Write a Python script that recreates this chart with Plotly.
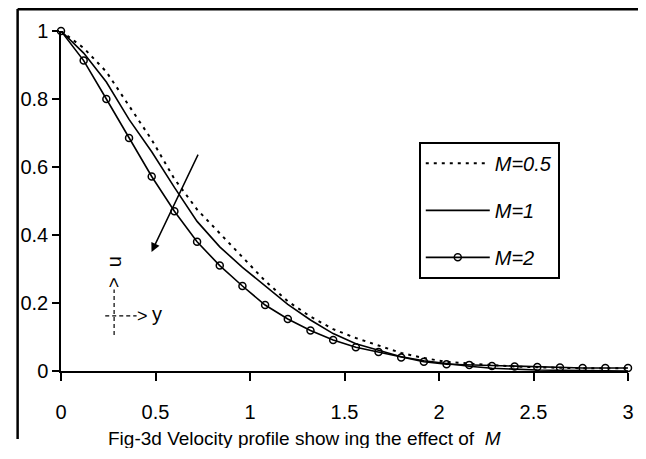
import plotly.graph_objects as go

# distances y and velocity u
y_vals = [0, 0.12, 0.24, 0.36, 0.48, 0.60, 0.72, 0.84, 0.96, 1.08, 1.20, 1.32, 1.44,
          1.56, 1.68, 1.80, 1.92, 2.04, 2.16, 2.28, 2.40, 2.52, 2.64, 2.76, 2.88, 3.00]
u_m05 = [1.0, 0.95, 0.88, 0.78, 0.68, 0.565, 0.475, 0.405, 0.335, 0.265, 0.205, 0.16, 0.123,
         0.097, 0.075, 0.053, 0.038, 0.027, 0.022, 0.017, 0.013, 0.011, 0.009, 0.008, 0.008, 0.008]
u_m1 = [1.0, 0.935, 0.85, 0.74, 0.645, 0.54, 0.44, 0.365, 0.305, 0.25, 0.196, 0.15, 0.11,
        0.08, 0.06, 0.042, 0.03, 0.021, 0.014, 0.008, 0.005, 0.003, 0.002, 0.001, 0.001, 0.0]
u_m2 = [1.0, 0.913, 0.80, 0.685, 0.572, 0.47, 0.38, 0.31, 0.25, 0.194, 0.153, 0.119, 0.091,
        0.07, 0.056, 0.040, 0.027, 0.02, 0.018, 0.015, 0.013, 0.012, 0.010, 0.009, 0.009, 0.009]
names = ["M=0.5", "M=1", "M=2"]
x_ticks = [0, 0.5, 1, 1.5, 2, 2.5, 3]
y_ticks = [0, 0.2, 0.4, 0.6, 0.8, 1]

FONT = "Liberation Sans Narrow, Arial Narrow, Liberation Sans, Arial, sans-serif"

fig = go.Figure()
fig.add_trace(go.Scatter(x=y_vals, y=u_m05, name=names[0], mode="lines", legendgroup="a",
                         line=dict(color="black", width=2, dash="3px,5px")))
fig.add_trace(go.Scatter(x=y_vals, y=u_m1, name=names[1], mode="lines", legendgroup="b",
                         line=dict(color="black", width=1.6)))
fig.add_trace(go.Scatter(x=y_vals, y=u_m2, name=names[2], mode="lines+markers", legendgroup="c",
                         line=dict(color="black", width=1.6),
                         marker=dict(symbol="circle", size=7, color="rgba(255,255,255,0)",
                                     line=dict(color="black", width=1.5)),
                         cliponaxis=False))

# arrow showing increasing M
fig.add_annotation(x=0.479, y=0.35, ax=0.729, ay=0.641, xref="x", yref="y", axref="x", ayref="y",
                   text="", showarrow=True, arrowhead=2, arrowsize=1.2, arrowwidth=1.5,
                   arrowcolor="black")

# little u / y axes sketch
fig.add_shape(type="line", x0=0.281, x1=0.281, y0=0.106, y1=0.24, xref="x", yref="y",
              line=dict(color="black", width=1.2, dash="4px,3px"))
fig.add_shape(type="line", x0=0.234, x1=0.40, y0=0.162, y1=0.162, xref="x", yref="y",
              line=dict(color="black", width=1.2, dash="4px,3px"))
fig.add_annotation(x=0.432, y=0.162, text=">", showarrow=False, xref="x", yref="y",
                   font=dict(family=FONT, size=18, color="black"))
fig.add_annotation(x=0.51, y=0.168, text="y", showarrow=False, xref="x", yref="y",
                   font=dict(family=FONT, size=20, color="black"))
fig.add_annotation(x=0.281, y=0.259, text=">", showarrow=False, xref="x", yref="y", textangle=-90,
                   font=dict(family=FONT, size=18, color="black"))
fig.add_annotation(x=0.281, y=0.32, text="u", showarrow=False, xref="x", yref="y", textangle=-90,
                   font=dict(family=FONT, size=20, color="black"))

# caption
fig.add_annotation(x=0.43, y=(371 - 438) / 340, xref="paper", yref="paper", yanchor="middle",
                   showarrow=False,
                   text="Fig-3d Velocity profile show ing the effect of  <i>M</i>",
                   font=dict(family=FONT, size=19, color="black"))

# outer frame: only the top and left edges fall inside the picture
fig.add_shape(type="line", xref="paper", yref="paper", x0=-0.0765, x1=1.0226, y0=1.0647, y1=1.0647,
              line=dict(color="black", width=3))
fig.add_shape(type="line", xref="paper", yref="paper", x0=-0.0765, x1=-0.0765, y0=-0.2, y1=1.0647,
              line=dict(color="black", width=2.5))

# the page body adds an 8px margin, so the figure is shifted 8px left/up to compensate
fig.update_layout(
    width=638, height=440,
    margin=dict(l=50, r=13, t=23, b=77),
    paper_bgcolor="white", plot_bgcolor="white",
    font=dict(family=FONT, size=20, color="black"),
    showlegend=True,
    legend=dict(x=0.631, y=0.674, xanchor="left", yanchor="top", bgcolor="white",
                bordercolor="black", borderwidth=2, tracegroupgap=18, itemwidth=64,
                font=dict(family=FONT, size=20, style="italic")),
    xaxis=dict(range=[0, 3], tickvals=x_ticks, showgrid=False, zeroline=False,
               showline=True, linecolor="black", linewidth=2, ticks="outside",
               ticklen=8, tickwidth=1.5, tickcolor="black", ticklabelstandoff=14,
               ticklabeloverflow="allow"),
    yaxis=dict(range=[0, 1], tickvals=y_ticks, showgrid=False, zeroline=False,
               showline=True, linecolor="black", linewidth=1.5, ticks="outside",
               ticklen=7, tickwidth=1.5, tickcolor="black"),
)

fig.write_html("out.html")
